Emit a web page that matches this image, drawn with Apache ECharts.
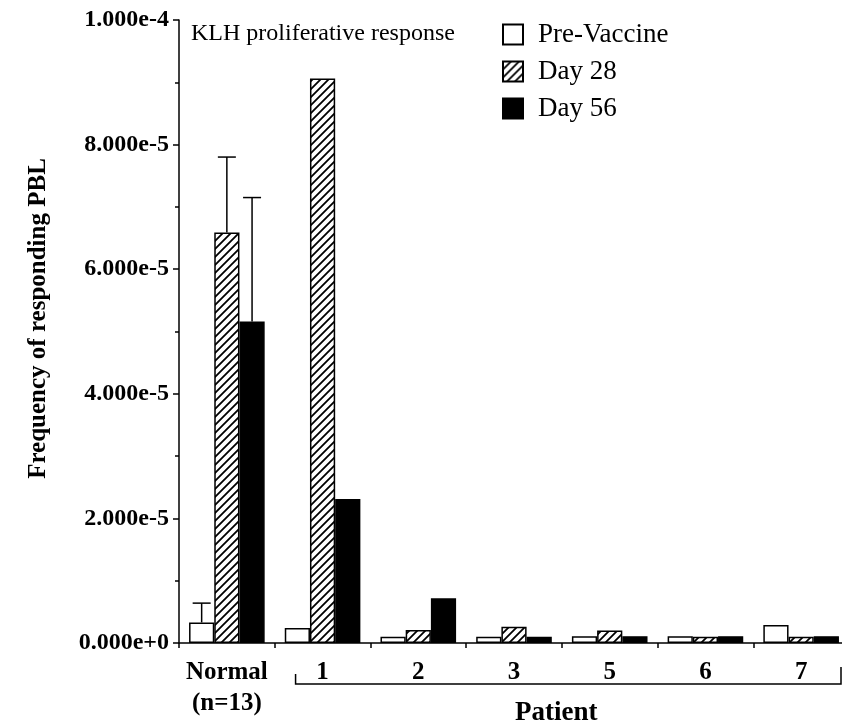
<!DOCTYPE html>
<html>
<head>
<meta charset="utf-8">
<script src="https://cdn.jsdelivr.net/npm/echarts@6/dist/echarts.min.js"></script>
<style>
html,body{margin:0;padding:0;background:#fff;}
#chart{width:842px;height:723px;}
</style>
</head>
<body>
<div id="chart"></div>
<script>
// ---- data ----
const categories = ['Normal\n(n=13)', '1', '2', '3', '5', '6', '7'];
const seriesNames = ['Pre-Vaccine', 'Day 28', 'Day 56'];
const preVaccine = [3.3e-6, 2.4e-6, 1.0e-6, 1.0e-6, 1.1e-6, 1.1e-6, 2.9e-6];
const day28      = [6.59e-5, 9.06e-5, 2.1e-6, 2.6e-6, 2.0e-6, 1.0e-6, 1.0e-6];
const day56      = [5.16e-5, 2.31e-5, 7.2e-6, 1.0e-6, 1.1e-6, 1.1e-6, 1.1e-6];
// upper error (SD) for the Normal group only
const preVaccineErr = [3.1e-6, null, null, null, null, null, null];
const day28Err      = [1.21e-5, null, null, null, null, null, null];
const day56Err      = [1.99e-5, null, null, null, null, null, null];
const yMin = 0, yMax = 1e-4, yInterval = 2e-5;
const titleText = 'KLH proliferative response';
const yName = 'Frequency of responding PBL';
const xGroupName = 'Patient';

// ---- styles ----
const FONT = '"Liberation Serif", "Times New Roman", serif';
function hatch() {
  const c = document.createElement('canvas');
  c.width = 8; c.height = 8;
  const g = c.getContext('2d');
  g.fillStyle = '#fff'; g.fillRect(0, 0, 8, 8);
  g.strokeStyle = '#000'; g.lineWidth = 1.8;
  g.beginPath();
  g.moveTo(-1, 9); g.lineTo(9, -1);
  g.moveTo(-1, 1); g.lineTo(1, -1);
  g.moveTo(7, 9); g.lineTo(9, 7);
  g.stroke();
  return c;
}
const fills = ['#ffffff', { image: hatch(), repeat: 'repeat' }, '#000000'];
const values = [preVaccine, day28, day56];
const errs = [preVaccineErr, day28Err, day56Err];

const errData = [];
errs.forEach((arr, s) => arr.forEach((e, i) => {
  if (e != null) errData.push([i, s, values[s][i], e]);
}));

const GAP = 0.21;
const chart = echarts.init(document.getElementById('chart'), null, { renderer: 'canvas' });
const option = {
  animation: false,
  backgroundColor: '#fff',
  title: {
    text: titleText, left: 186, top: 17,
    textStyle: { fontFamily: FONT, fontWeight: 'normal', fontSize: 24, color: '#000' }
  },
  legend: {
    orient: 'vertical', left: 497, top: 16,
    itemWidth: 20, itemHeight: 20, itemGap: 10,
    icon: 'rect',
    data: seriesNames,
    textStyle: { fontFamily: FONT, fontSize: 27, color: '#000', padding: [0, 0, 0, 10] }
  },
  grid: { left: 179, right: -7, top: 20, bottom: 80, outerBoundsMode: 'none', containLabel: false },
  xAxis: {
    type: 'category',
    data: categories,
    axisLine: { lineStyle: { color: '#000', width: 1.5 } },
    axisTick: { show: true, length: 5, inside: false, lineStyle: { color: '#000', width: 1.5 } },
    axisLabel: { fontFamily: FONT, fontWeight: 'bold', fontSize: 25, color: '#000', margin: 14, lineHeight: 31, interval: 0 },
    splitLine: { show: false }
  },
  yAxis: {
    type: 'value', min: yMin, max: yMax, interval: yInterval,
    name: yName, nameLocation: 'middle', nameGap: 128, nameRotate: 90,
    nameTextStyle: { fontFamily: FONT, fontWeight: 'bold', fontSize: 25, color: '#000', padding: [0, 0, 0, 26] },
    axisLine: { show: true, lineStyle: { color: '#000', width: 1.5 } },
    axisTick: { show: true, length: 6, lineStyle: { color: '#000', width: 1.5 } },
    minorTick: { show: true, splitNumber: 2, length: 4, lineStyle: { color: '#000', width: 1.5 } },
    axisLabel: {
      fontFamily: FONT, fontWeight: 'bold', fontSize: 24, color: '#000', margin: 10,
      formatter: v => Number(v).toExponential(3)
    },
    splitLine: { show: false }
  },
  series: seriesNames.map((n, s) => ({
    name: n, type: 'bar', data: values[s],
    barGap: '0%', barCategoryGap: (GAP * 100) + '%',
    itemStyle: { color: fills[s], borderColor: '#000', borderWidth: 1.5 }
  })).concat([{
    type: 'custom', name: 'err', data: errData, z: 5,
    renderItem: function (params, api) {
      const c = api.value(0), s = api.value(1), m = api.value(2), e = api.value(3);
      const base = api.coord([c, m]);
      const top = api.coord([c, m + e]);
      const bw = api.size([1, 0])[0] * (1 - GAP) / 3;
      const x = base[0] + (s - 1) * bw;
      const st = { stroke: '#000', lineWidth: 1.5 };
      return { type: 'group', children: [
        { type: 'line', shape: { x1: x, y1: base[1], x2: x, y2: top[1] }, style: st },
        { type: 'line', shape: { x1: x - 9, y1: top[1], x2: x + 9, y2: top[1] }, style: st }
      ] };
    }
  }])
};
chart.setOption(option);

// bracket under the patient categories + group label
const p1 = chart.convertToPixel({ xAxisIndex: 0 }, categories[1]);
const pEnd = chart.convertToPixel({ xAxisIndex: 0 }, categories[categories.length - 1]);
const left = p1 - 27, right = Math.min(pEnd + 40, 841);
const by = 684;
chart.setOption({
  graphic: [
    { type: 'polyline', shape: { points: [[left, by - 10], [left, by], [right, by], [right, by - 17]] },
      style: { stroke: '#000', lineWidth: 1.5, fill: null }, z: 10 },
    { type: 'text', x: (left + right) / 2 - 12, y: 713,
      style: { text: xGroupName, fontFamily: FONT, fontWeight: 'bold', fontSize: 27, fill: '#000', align: 'center', verticalAlign: 'middle' } }
  ]
});
</script>
</body>
</html>
